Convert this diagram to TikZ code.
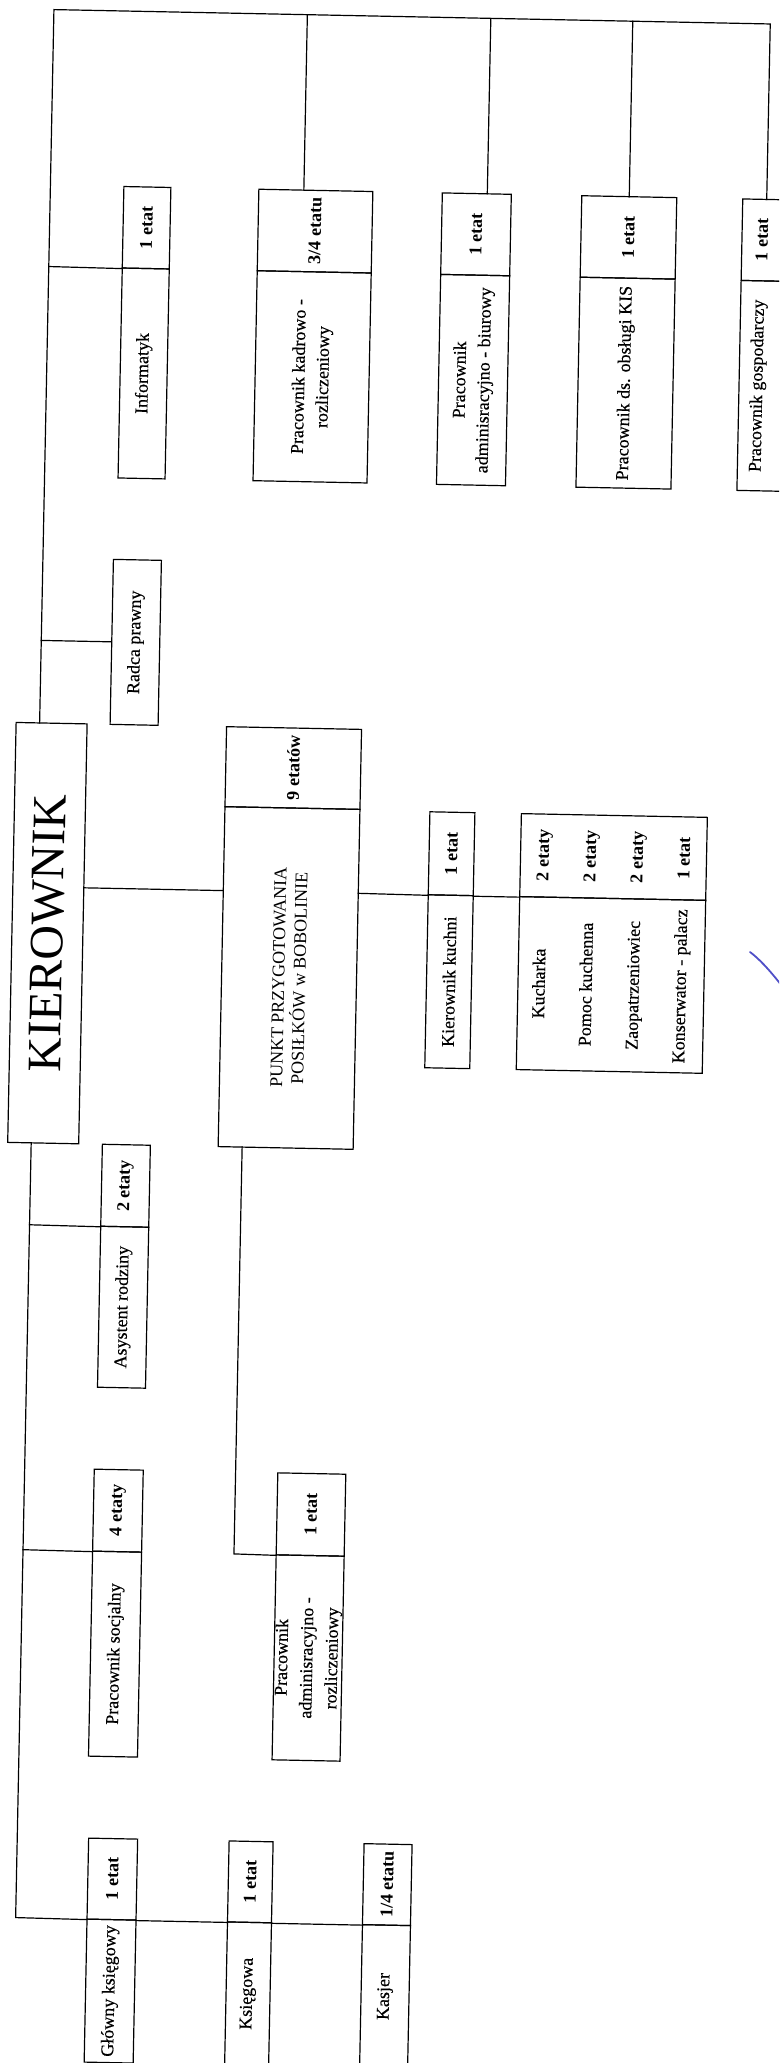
\documentclass[tikz,border=0pt]{standalone}
\usepackage{fontspec}
\setmainfont{Liberation Serif}
\definecolor{pen}{RGB}{80,80,200}
\begin{document}
\begin{tikzpicture}[x=1pt,y=-1pt,
  lw/.style={line width=1.2pt},
  cell/.style={draw, lw, rectangle, inner sep=0pt},
  nm/.style={rotate=90, align=center, inner sep=0pt, font=\addfontfeature{FakeBold=0.4}\fontsize{18}{24}\selectfont},
  ct/.style={rotate=90, align=center, inner sep=0pt, font=\bfseries\fontsize{18}{24}\selectfont},
  conn/.style={lw, line cap=rect}]
\useasboundingbox (0,0) rectangle (779,2063);
\clip (0,0) rectangle (779,2063);
\fill[white] (0,0) rectangle (779,2063);
\begin{scope}[rotate around={-1.15:(389,1031)}, transform shape]
% upper right group
\node[cell, minimum width=47pt, minimum height=81.5pt] (infC) at (130.5,232.75) {};
\node[cell, minimum width=47pt, minimum height=210pt] (infN) at (130.5,378.5) {};
\node[cell, minimum width=114pt, minimum height=81.5pt] (kadC) at (299,232.75) {};
\node[cell, minimum width=114pt, minimum height=210pt] (kadN) at (299,378.5) {};
\node[cell, minimum width=69pt, minimum height=81.5pt] (biuC) at (460,232.75) {};
\node[cell, minimum width=69pt, minimum height=210pt] (biuN) at (460,378.5) {};
\node[cell, minimum width=95pt, minimum height=81.5pt] (kisC) at (612.5,232.75) {};
\node[cell, minimum width=95pt, minimum height=210pt] (kisN) at (612.5,378.5) {};
\node[cell, minimum width=54pt, minimum height=81.5pt] (gosC) at (753,232.75) {};
\node[cell, minimum width=54pt, minimum height=210pt] (gosN) at (753,378.5) {};
\node[cell, minimum width=48pt, minimum height=165pt] (rad) at (128,647.5) {};
% middle
\node[cell, minimum width=71pt, minimum height=420pt] (kir) at (45.5,940) {};
\node[cell, minimum width=135pt, minimum height=80pt] (punC) at (288,770) {};
\node[cell, minimum width=135pt, minimum height=340pt] (punN) at (288,980) {};
\node[cell, minimum width=45pt, minimum height=83pt] (kkC) at (448,852.5) {};
\node[cell, minimum width=45pt, minimum height=173pt] (kkN) at (448,980.5) {};
\node[cell, minimum width=186pt, minimum height=83pt] (stC) at (610,852.5) {};
\node[cell, minimum width=186pt, minimum height=173pt] (stN) at (610,980.5) {};
% lower
\node[cell, minimum width=48pt, minimum height=82pt] (asC) at (128.7,1191) {};
\node[cell, minimum width=48pt, minimum height=161pt] (asN) at (128.7,1312.5) {};
\node[cell, minimum width=49pt, minimum height=82pt] (soC) at (127.6,1516) {};
\node[cell, minimum width=49pt, minimum height=205pt] (soN) at (127.6,1659.5) {};
\node[cell, minimum width=68pt, minimum height=82pt] (adC) at (320.7,1516) {};
\node[cell, minimum width=68pt, minimum height=205pt] (adN) at (320.7,1659.5) {};
\node[cell, minimum width=49pt, minimum height=81pt] (glC) at (129.4,1884.5) {};
\node[cell, minimum width=49pt, minimum height=143pt] (glN) at (129.4,1996.5) {};
\node[cell, minimum width=44pt, minimum height=81pt] (ksC) at (267.4,1884.5) {};
\node[cell, minimum width=44pt, minimum height=143pt] (ksN) at (267.4,1996.5) {};
\node[cell, minimum width=48pt, minimum height=81pt] (kaC) at (404.4,1884.5) {};
\node[cell, minimum width=48pt, minimum height=143pt] (kaN) at (404.4,1996.5) {};
% texts
\node[ct] (infK) at (infC) {1 etat};
\node[nm] (infT) at (infN) {Informatyk};
\node[ct] (kadK) at (kadC) {3/4 etatu};
\node[nm] (kadT) at (kadN) {Pracownik kadrowo -\\rozliczeniowy};
\node[ct] (biuK) at (biuC) {1 etat};
\node[nm] (biuT) at (biuN) {Pracownik\\adminisracyjno - biurowy};
\node[ct] (kisK) at (kisC) {1 etat};
\node[nm] (kisT) at (kisN) {Pracownik ds. obsługi KIS};
\node[ct] (gosK) at (746,232.75) {1 etat};
\node[nm] (gosT) at (745,378.5) {Pracownik gospodarczy};
\node[nm] (radT) at (rad) {Radca prawny};
\node[rotate=90, inner sep=0pt, font=\fontsize{48}{50}\selectfont] (kirT) at (kir) {KIEROWNIK};
\node[ct] (punK) at (punC) {9 etatów};
\node[nm, font=\fontsize{18}{21}\selectfont] (punT) at (punN) {PUNKT PRZYGOTOWANIA\\POSIŁKÓW w BOBOLINIE};
\node[ct] (kkK) at (kkC) {1 etat};
\node[nm] (kkT) at (kkN) {Kierownik kuchni};
\node[ct, font=\bfseries\fontsize{18}{47}\selectfont] (stK) at (stC) {2 etaty\\2 etaty\\2 etaty\\1 etat};
\node[nm, font=\addfontfeature{FakeBold=0.4}\fontsize{18}{47}\selectfont] (stT) at (stN) {Kucharka\\Pomoc kuchenna\\Zaopatrzeniowiec\\Konserwator - palacz};
\node[ct] (asK) at (asC) {2 etaty};
\node[nm] (asT) at (asN) {Asystent rodziny};
\node[ct] (soK) at (soC) {4 etaty};
\node[nm] (soT) at (soN) {Pracownik socjalny};
\node[ct] (adK) at (adC) {1 etat};
\node[nm, font=\addfontfeature{FakeBold=0.4}\fontsize{18}{25}\selectfont] (adT) at (adN) {Pracownik\\adminisracyjno -\\rozliczeniowy};
\node[ct] (glK) at (glC) {1 etat};
\node[nm] (glT) at (glN) {Główny księgowy};
\node[ct] (ksK) at (ksC) {1 etat};
\node[nm] (ksT) at (ksN) {Księgowa};
\node[ct] (kaK) at (kaC) {1/4 etatu};
\node[nm] (kaT) at (kaN) {Kasjer};
% junction coordinates
\coordinate (tl) at (33.5,16.5);
\coordinate (tr) at (750,16.5);
\coordinate (kirTop) at (33.5,730);
\coordinate (kirBot) at (33.5,1150);
\coordinate (tInf) at (33.5,273.5);
\coordinate (tRad) at (33.5,647.5);
\coordinate (tAs) at (33.5,1232);
\coordinate (tSo) at (33.5,1557);
\coordinate (tGl) at (33.5,1925);
\coordinate (vK) at (287,16.5);
\coordinate (vKe) at (287,192);
\coordinate (vB) at (470.5,16.5);
\coordinate (vBe) at (470.5,192);
\coordinate (vS) at (612.5,16.5);
\coordinate (vSe) at (612.5,192);
\coordinate (vG) at (750,192);
\coordinate (kirE) at (81,894);
\coordinate (punW) at (220.5,894);
\coordinate (punE) at (355.5,894);
\coordinate (pTop) at (244.5,1150);
\coordinate (pBot) at (244.5,1557);
% connectors
\draw[conn] (kirTop) -- (tl) -- (tr) -- (vG);
\draw[conn] (vK) -- (vKe);
\draw[conn] (vB) -- (vBe);
\draw[conn] (vS) -- (vSe);
\draw[conn] (tInf) -- (infC.south west);
\draw[conn] (tRad) -- (rad.west);
\draw[conn] (kirE) -- (punW);
\draw[conn] (punE) -- (kkC.south west);
\draw[conn] (kkC.south east) -- (stC.south west);
\draw[conn] (kirBot) -- (tGl) -- (glC.south west);
\draw[conn] (glC.south east) -- (ksC.south west);
\draw[conn] (ksC.south east) -- (kaC.south west);
\draw[conn] (tAs) -- (asC.south west);
\draw[conn] (tSo) -- (soC.south west);
\draw[conn] (pTop) -- (pBot) -- (adC.south west);
\end{scope}
% pen stroke (signature fragment)
\draw[pen, line width=1.8pt, line cap=round] (750,952) .. controls (758,958) and (768,968) .. (782,986);
\end{tikzpicture}
\end{document}
